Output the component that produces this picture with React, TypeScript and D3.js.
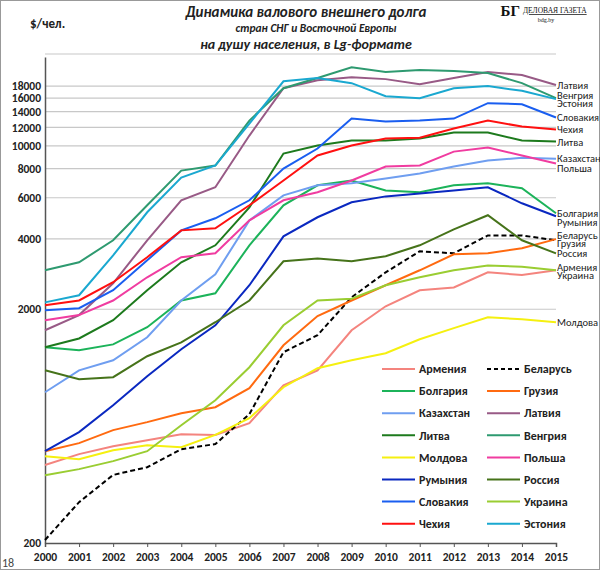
import React, { useEffect, useRef } from 'react';
import * as d3 from 'd3';

const years = d3.range(2000, 2016);

const tickValues = [200, 2000, 4000, 6000, 8000, 10000, 12000, 14000, 16000, 18000];

const armenia = [431, 480, 519, 550, 584, 580, 651, 946, 1096, 1626, 2060, 2412, 2480, 2880, 2800, 2936];
const belarus = [206, 299, 391, 422, 504, 530, 712, 1310, 1549, 2250, 2878, 3540, 3470, 4140, 4140, 3944];
const bulgaria = [1376, 1336, 1415, 1675, 2180, 2340, 3755, 5570, 6780, 7110, 6450, 6330, 6780, 6920, 6590, 5150];
const georgia = [494, 535, 608, 658, 718, 762, 919, 1402, 1870, 2180, 2534, 2936, 3437, 3470, 3650, 3990];
const kazakhstan = [883, 1096, 1210, 1518, 2180, 2822, 4800, 6140, 6780, 6920, 7250, 7620, 8160, 8650, 8890, 8800];
const latvia = [1626, 1888, 2584, 3945, 5850, 6650, 11070, 17650, 19100, 19680, 19300, 18370, 19500, 20700, 20100, 18200];
const lithuania = [1376, 1500, 1795, 2412, 3177, 3755, 5460, 9270, 10040, 10540, 10540, 10750, 11400, 11400, 10540, 10430];
const hungary = [2936, 3177, 3945, 5570, 7840, 8240, 12830, 17650, 19500, 21700, 20700, 21100, 20900, 20500, 18550, 16000];
const moldova = [470, 456, 499, 524, 514, 580, 684, 928, 1119, 1210, 1297, 1488, 1660, 1848, 1812, 1760];
const poland = [1795, 1888, 2180, 2740, 3340, 3470, 4800, 5850, 6330, 7110, 8160, 8240, 9450, 9840, 9100, 8400];
const romania = [494, 596, 777, 1034, 1349, 1708, 2534, 4100, 4950, 5740, 6080, 6250, 6450, 6650, 5680, 5000];
const russia = [1096, 1004, 1024, 1259, 1444, 1760, 2180, 3210, 3300, 3210, 3370, 3755, 4390, 5050, 3945, 3470];
const slovakia = [1980, 2020, 2412, 3240, 4350, 4900, 5850, 8000, 9740, 13090, 12700, 12830, 13090, 15230, 15070, 13220];
const ukraine = [390, 414, 448, 494, 638, 816, 1130, 1708, 2180, 2220, 2534, 2740, 2936, 3080, 3040, 2936];
const czech = [2080, 2180, 2610, 3340, 4350, 4440, 5570, 7110, 9100, 10040, 10750, 10830, 11860, 12830, 12090, 11740];
const estonia = [2140, 2296, 3403, 5200, 7320, 8240, 12460, 18900, 19500, 18550, 16300, 16000, 17650, 18020, 17200, 15850];

interface Series { name: string; values: number[]; color: string; dash?: boolean; }

const series: Series[] = [
  { name: 'Армения', values: armenia, color: '#f4847e' },
  { name: 'Беларусь', values: belarus, color: '#000000', dash: true },
  { name: 'Болгария', values: bulgaria, color: '#1cb35a' },
  { name: 'Грузия', values: georgia, color: '#ff6a10' },
  { name: 'Казахстан', values: kazakhstan, color: '#6f9ef0' },
  { name: 'Латвия', values: latvia, color: '#985a86' },
  { name: 'Литва', values: lithuania, color: '#1d7a1d' },
  { name: 'Венгрия', values: hungary, color: '#2e9a70' },
  { name: 'Молдова', values: moldova, color: '#f5f010' },
  { name: 'Польша', values: poland, color: '#f03ca0' },
  { name: 'Румыния', values: romania, color: '#0a28c0' },
  { name: 'Россия', values: russia, color: '#46731a' },
  { name: 'Словакия', values: slovakia, color: '#1a5ef0' },
  { name: 'Украина', values: ukraine, color: '#9acd32' },
  { name: 'Чехия', values: czech, color: '#ff1010' },
  { name: 'Эстония', values: estonia, color: '#1aa8d0' },
];

// end labels on the right (name, y position)
const endLabels: [string, number][] = [
  ['Латвия', 85], ['Венгрия', 95], ['Эстония', 103], ['Словакия', 117], ['Чехия', 129],
  ['Литва', 142], ['Казахстан', 158], ['Польша', 168], ['Болгария', 213], ['Румыния', 222],
  ['Беларусь', 235], ['Грузия', 243], ['Россия', 253], ['Армения', 267], ['Украина', 275],
  ['Молдова', 322],
];

const W = 600, H = 570;
const font = 'Calibri, Carlito, "Liberation Sans", Arial, sans-serif';

const App: React.FC = () => {
  const ref = useRef<SVGSVGElement>(null);

  useEffect(() => {
    const svg = d3.select(ref.current);
    svg.selectAll('*').remove();

    const x = d3.scaleLinear().domain([2000, 2015]).range([45, 556]);
    const y = d3.scaleLog().domain([200, 24000]).range([543, 57]);

    svg.append('rect').attr('x', 0.5).attr('y', 0.5).attr('width', W - 1).attr('height', H - 1)
      .attr('fill', 'white').attr('stroke', '#999');

    // grid
    svg.append('g').selectAll('line').data(tickValues.slice(1)).enter().append('line')
      .attr('x1', 45).attr('x2', 556).attr('y1', d => y(d)).attr('y2', d => y(d))
      .attr('stroke', '#c8c8c8').attr('stroke-width', 1.2);
    svg.append('line').attr('x1', 45).attr('x2', 556).attr('y1', 54).attr('y2', 54)
      .attr('stroke', '#c8c8c8').attr('stroke-width', 1.2);

    const yAxis = svg.append('g').attr('transform', 'translate(45,0)')
      .call(d3.axisLeft(y).tickValues(tickValues).tickSize(0).tickPadding(4).tickFormat(d3.format('d')));
    yAxis.select('.domain').attr('stroke', '#555').attr('stroke-width', 1.5);
    yAxis.selectAll('text').attr('font-family', font).attr('font-size', 11.5).attr('font-weight', 'bold').attr('fill', '#222');

    const xAxis = svg.append('g').attr('transform', 'translate(0,543)')
      .call(d3.axisBottom(x).tickValues(years).tickSize(4).tickPadding(6).tickFormat(d3.format('d')));
    xAxis.select('.domain').attr('stroke', '#555').attr('stroke-width', 1.5);
    xAxis.selectAll('line').attr('stroke', '#555');
    xAxis.selectAll('text').attr('font-family', font).attr('font-size', 11.5).attr('font-weight', 'bold').attr('fill', '#222');

    const line = d3.line<number>().x((_, i) => x(years[i])).y(d => y(d));
    svg.append('g').selectAll('path').data(series).enter().append('path')
      .attr('d', d => line(d.values))
      .attr('fill', 'none')
      .attr('stroke', d => d.color)
      .attr('stroke-width', 2)
      .attr('stroke-dasharray', d => (d.dash ? '5,3' : null));

    svg.append('g').selectAll('text').data(endLabels).enter().append('text')
      .attr('x', 557).attr('y', d => d[1]).attr('dy', '0.35em')
      .attr('font-family', font).attr('font-size', 10.5).attr('fill', '#222')
      .text(d => d[0]);

    // legend
    svg.append('rect').attr('x', 375).attr('y', 357).attr('width', 212).attr('height', 180).attr('fill', 'white');
    const leg = svg.append('g').selectAll('g').data(series).enter().append('g')
      .attr('transform', (_, i) => `translate(${i % 2 === 0 ? 382 : 487},${369 + Math.floor(i / 2) * 22.1})`);
    leg.append('line').attr('x1', 0).attr('x2', 33).attr('y1', 0).attr('y2', 0)
      .attr('stroke', d => d.color).attr('stroke-width', 2)
      .attr('stroke-dasharray', d => (d.dash ? '4,3' : null));
    leg.append('text').attr('x', 37).attr('dy', '0.35em')
      .attr('font-family', font).attr('font-size', 12).attr('font-weight', 'bold').attr('fill', '#222')
      .text(d => d.name);

    // titles
    const t = svg.append('g').attr('font-family', font).attr('font-weight', 'bold').attr('font-style', 'italic').attr('fill', '#222');
    t.append('text').attr('x', 306).attr('y', 17).attr('text-anchor', 'middle').attr('font-size', 15).text('Динамика валового внешнего долга');
    t.append('text').attr('x', 316).attr('y', 32).attr('text-anchor', 'middle').attr('font-size', 11.5).text('стран СНГ и Восточной Европы');
    t.append('text').attr('x', 306).attr('y', 49).attr('text-anchor', 'middle').attr('font-size', 14).text('на душу  населения,  в Lg-формате');
    svg.append('text').attr('x', 30).attr('y', 28).attr('font-family', font).attr('font-weight', 'bold').attr('font-size', 13).attr('fill', '#222').text('$/чел.');
    svg.append('text').attr('x', 2).attr('y', 567).attr('font-family', font).attr('font-size', 12).attr('fill', '#444').text('18');

    // logo
    const logo = svg.append('g').attr('font-family', '"Liberation Serif", serif').attr('fill', '#111');
    logo.append('text').attr('x', 520).attr('y', 16).attr('text-anchor', 'end').attr('font-size', 15).attr('font-weight', 'bold').text('БГ');
    logo.append('text').attr('x', 523).attr('y', 13).attr('font-size', 7.5).attr('text-decoration', 'underline').text('ДЕЛОВАЯ ГАЗЕТА');
    logo.append('text').attr('x', 546).attr('y', 22).attr('text-anchor', 'middle').attr('font-size', 6).text('bdg.by');
  }, []);

  return <svg ref={ref} width={W} height={H} style={{ position: 'absolute', left: 0, top: 0 }} />;
};

export default App;
